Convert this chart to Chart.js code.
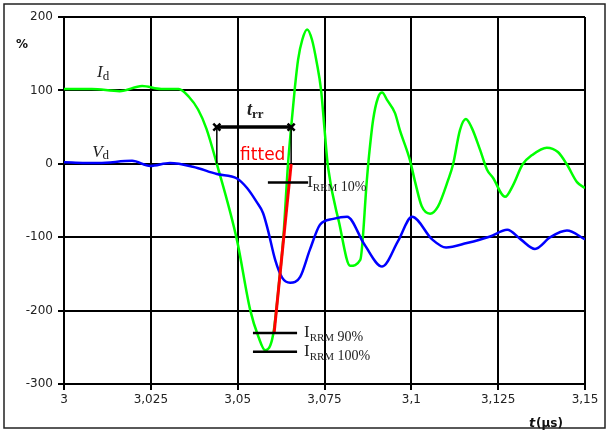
<!DOCTYPE html>
<html>
<head>
<meta charset="utf-8">
<script src="https://cdn.jsdelivr.net/npm/chart.js@4.4.1/dist/chart.umd.min.js"></script>
<style>
  html, body { margin: 0; padding: 0; background: #fff; }
</style>
</head>
<body>
<canvas id="trrChart" width="607" height="434"></canvas>
<script>
// axis ticks
const xTicks = [3, 3.025, 3.05, 3.075, 3.1, 3.125, 3.15];
const yTicks = [-300, -200, -100, 0, 100, 200];

// diode current I_d (%)
const idTime = [3.000, 3.008, 3.016, 3.0225, 3.028, 3.033, 3.036, 3.0386, 3.041, 3.044,
  3.0498, 3.0536, 3.056, 3.0579, 3.0602, 3.0622, 3.0631, 3.0645, 3.0654, 3.0665, 3.0674,
  3.0686, 3.070, 3.0714, 3.0728, 3.074, 3.0751, 3.076, 3.0792, 3.0824, 3.0853, 3.0872,
  3.0878, 3.089, 3.0904, 3.0916, 3.093, 3.0953, 3.0967, 3.0996, 3.1011, 3.103, 3.1054,
  3.1077, 3.1106, 3.112, 3.114, 3.1157, 3.1174, 3.1198, 3.1218, 3.1235, 3.127, 3.1293,
  3.132, 3.1348, 3.139, 3.1422, 3.1448, 3.1477, 3.15];
const idValue = [102, 102, 99, 106, 102, 102, 91, 74, 48, 0,
  -104, -199, -236, -254, -233, -149, -104, 0, 50, 105, 142,
  169, 183, 169, 137, 101, 42, -4, -80, -139, -131, -22,
  10, 60, 90, 97, 87, 69, 46, 5, -25, -58, -68,
  -58, -22, -1, 46, 61, 49, 19, -8, -19, -45, -29,
  -1, 12, 22, 16, -1, -25, -33];

// diode voltage V_d (%)
const vdTime = [3.000, 3.010, 3.0196, 3.0248, 3.0305, 3.0371, 3.044, 3.0498, 3.0527,
  3.0556, 3.0573, 3.0587, 3.0608, 3.0628, 3.0651, 3.068, 3.0708, 3.0737, 3.0775, 3.0815,
  3.0865, 3.0916, 3.0962, 3.1002, 3.106, 3.110, 3.116, 3.1227, 3.1276, 3.1315, 3.1356,
  3.140, 3.1448, 3.15];
const vdValue = [2, 1, 4, -3, 1, -4, -14, -20, -33,
  -53, -67, -90, -131, -155, -162, -154, -117, -83, -75, -72,
  -110, -140, -105, -72, -103, -114, -108, -99, -90, -103, -116,
  -100, -91, -103];

// fitted slope through the 90 % and 10 % points
const fitTime = [3.0605, 3.0654];
const fitValue = [-230.4, 0];

// I_RRM reference levels
const irrmLevel = [-25.6, -230.4, -256];
const irrmText = ['10%', '90%', '100%'];
const irrmFrom = [3.0587, 3.0544, 3.0544];
const irrmTo = [3.0703, 3.0671, 3.0671];
const irrmTextX = [3.0700, 3.0691, 3.0691];

// reverse recovery time marker
const trrTime = [3.044, 3.0654];
const trrLevel = 50;

const pts = (xs, ys) => xs.map((x, i) => ({ x: x, y: ys[i] }));

const datasets = [
  { data: pts(idTime, idValue), borderColor: '#00ff00', borderWidth: 2.5, order: 5 },
  { data: pts(vdTime, vdValue), borderColor: '#0000ff', borderWidth: 2.5, order: 4 },
  { data: pts(fitTime, fitValue), borderColor: '#ff0000', borderWidth: 3, order: 3, cubicInterpolationMode: 'default' }
];
irrmLevel.forEach((lv, i) => {
  datasets.push({ data: pts([irrmFrom[i], irrmTo[i]], [lv, lv]), borderColor: '#000', borderWidth: 2.5, order: 2 });
});
trrTime.forEach(t => {
  datasets.push({ data: pts([t, t], [trrLevel, 0]), borderColor: '#000', borderWidth: 1.5, order: 2 });
});
datasets.push({
  data: pts(trrTime, [trrLevel, trrLevel]), borderColor: '#000', borderWidth: 3.5, order: 1,
  pointStyle: 'crossRot', pointRadius: 5, pointBorderWidth: 2.5, pointBorderColor: '#000'
});

// texts drawn at data positions
const textPlugin = {
  id: 'texts',
  afterDatasetsDraw(chart) {
    const ctx = chart.ctx;
    const xs = chart.scales.x, ys = chart.scales.y;
    const run = (x, y, parts) => {
      let px = xs.getPixelForValue(x);
      const py = ys.getPixelForValue(y);
      parts.forEach(p => {
        ctx.font = p[1];
        ctx.fillStyle = p[3] || '#222';
        ctx.fillText(p[0], px, py + p[2]);
        px += ctx.measureText(p[0]).width;
      });
    };
    ctx.save();
    ctx.textBaseline = 'alphabetic';
    ctx.textAlign = 'left';
    run(3.0095, 118.5, [['I', 'italic 17px "Liberation Serif"', 0], ['d', '13px "Liberation Serif"', 3]]);
    run(3.0081, 9.5, [['V', 'italic 17px "Liberation Serif"', 0], ['d', '13px "Liberation Serif"', 2]]);
    run(3.0527, 66.8, [['t', 'bold italic 18px "Liberation Serif"', 0], ['rr', 'bold 13px "Liberation Serif"', 3]]);
    run(3.0507, 5.4, [['fitted', '17px "DejaVu Sans"', 0, '#ff0000']]);
    irrmLevel.forEach((lv, i) => {
      run(irrmTextX[i], lv, [['I', '17px "Liberation Serif"', 4], ['RRM', '11px "Liberation Serif"', 8], [' ' + irrmText[i], '14px "Liberation Serif"', 8]]);
    });
    ctx.restore();
  },
  afterDraw(chart) {
    const ctx = chart.ctx;
    ctx.save();
    ctx.strokeStyle = '#222';
    ctx.lineWidth = 1.5;
    ctx.strokeRect(4, 4, 601, 424);
    ctx.fillStyle = '#111';
    ctx.textBaseline = 'alphabetic';
    ctx.font = 'bold 12px "DejaVu Sans"';
    ctx.fillText('%', 16, 48);
    ctx.font = 'bold italic 13px "DejaVu Sans"';
    ctx.fillText('t', 529, 427);
    ctx.font = 'bold 12px "DejaVu Sans"';
    ctx.fillText('(µs)', 536, 427);
    ctx.restore();
  }
};

const fmt = v => String(Math.round(v * 1000) / 1000).replace('.', ',');

new Chart(document.getElementById('trrChart'), {
  type: 'line',
  data: { datasets: datasets },
  options: {
    responsive: false,
    animation: false,
    layout: { padding: { top: 17, right: 22, left: 0, bottom: 0 } },
    elements: {
      point: { radius: 0 },
      line: { cubicInterpolationMode: 'monotone', fill: false }
    },
    plugins: { legend: { display: false }, tooltip: { enabled: false } },
    scales: {
      x: {
        type: 'linear', min: 3, max: 3.15,
        afterFit: a => { a.height = 50; },
        afterBuildTicks: a => { a.ticks = xTicks.map(v => ({ value: v })); },
        grid: { color: '#000', lineWidth: 2, tickLength: 6 },
        border: { color: '#000', width: 2 },
        ticks: { callback: fmt, color: '#222', padding: 3, maxRotation: 0, font: { family: 'DejaVu Sans', size: 12 } }
      },
      y: {
        min: -300, max: 200,
        afterFit: a => { a.width = 64; },
        afterBuildTicks: a => { a.ticks = yTicks.map(v => ({ value: v })); },
        grid: { color: '#000', lineWidth: 2, tickLength: 6 },
        border: { color: '#000', width: 2 },
        ticks: { color: '#222', padding: 5, font: { family: 'DejaVu Sans', size: 12 } }
      }
    }
  },
  plugins: [textPlugin]
});
</script>
</body>
</html>
